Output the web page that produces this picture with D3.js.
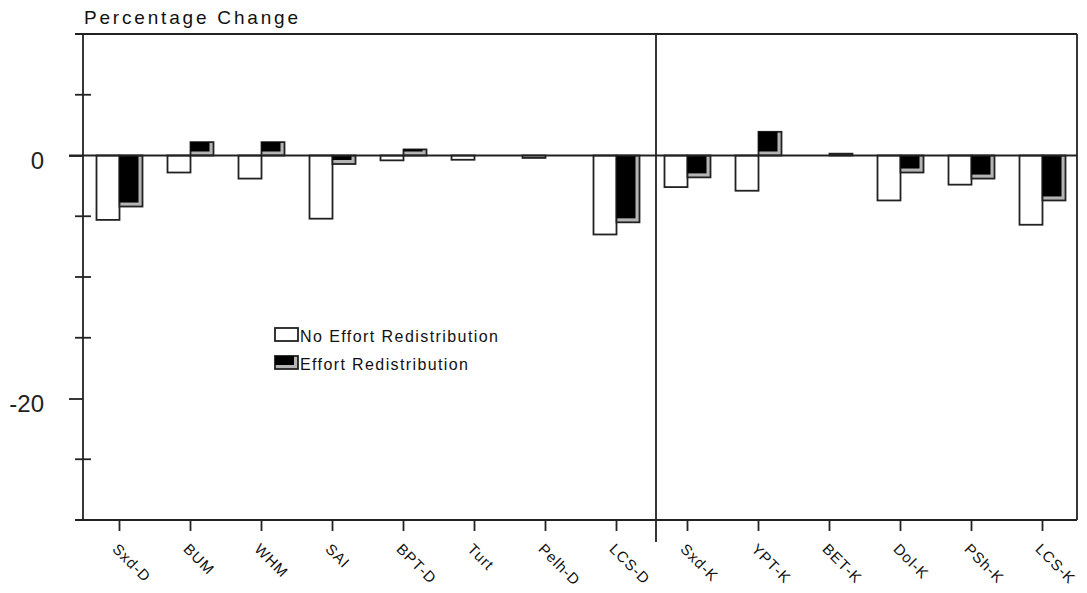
<!DOCTYPE html>
<html>
<head>
<meta charset="utf-8">
<script src="https://cdn.jsdelivr.net/npm/d3@7"></script>
<style>
  body { margin: 0; background: #fff; }
  svg { display: block; font-family: "Liberation Sans", Arial, sans-serif; }
</style>
</head>
<body>
<svg id="chart" width="1087" height="593"></svg>
<script>
// categories, D = first block, K = second block
const categories = ['Sxd-D', 'BUM', 'WHM', 'SAI', 'BPT-D', 'Turt', 'Pelh-D', 'LCS-D',
                    'Sxd-K', 'YPT-K', 'BET-K', 'Dol-K', 'PSh-K', 'LCS-K']
// percentage change
const noRedist = [-5.3, -1.4, -1.9, -5.2, -0.4, -0.35, -0.2, -6.5,
                  -2.6, -2.9, 0, -3.7, -2.4, -5.7]
const redist   = [-4.2, 1.1, 1.1, -0.7, 0.5, 0, 0, -5.5,
                  -1.8, 1.95, 0.15, -1.4, -1.9, -3.7]
const seriesNames = ['No Effort Redistribution', 'Effort Redistribution']
const yLabelTicks = [0, -20]
const yMinorTicks = [10, 5, -5, -10, -15, -25, -30]

const ink = '#222'
const sw = 1.8
const svg = d3.select('#chart')

const pLeft = 83, pRight = 1077, pTop = 34, pBottom = 520

let x = d3.scaleBand().domain(categories).range([pLeft + 1, pRight + 1])
let y = d3.scaleLinear().domain([-30, 10]).range([pBottom, pTop])
let sub = d3.scaleBand().domain([0, 1]).range([0, 46])

let rows = categories.map((c, i) => ({ cat: c, vals: [noRedist[i], redist[i]] }))

// bars
let groups = svg.selectAll('g.cat')
  .data(rows)
  .join('g')
  .attr('class', 'cat')
  .attr('transform', d => `translate(${x(d.cat) + (x.bandwidth() - 46) / 2},0)`)

// white bars
groups.filter(d => d.vals[0] !== 0).append('rect')
  .attr('x', sub(0))
  .attr('width', sub.bandwidth())
  .attr('y', d => y(Math.max(0, d.vals[0])))
  .attr('height', d => Math.abs(y(d.vals[0]) - y(0)))
  .attr('fill', '#fff')
  .attr('stroke', ink)
  .attr('stroke-width', sw)

// black bars with the grey 3d edge
let blk = groups.filter(d => d.vals[1] !== 0)
blk.append('rect')
  .attr('x', sub(1))
  .attr('width', sub.bandwidth())
  .attr('y', d => y(Math.max(0, d.vals[1])))
  .attr('height', d => Math.abs(y(d.vals[1]) - y(0)))
  .attr('fill', '#b4b4b4')
  .attr('stroke', ink)
  .attr('stroke-width', sw)
blk.append('rect')
  .attr('x', sub(1))
  .attr('width', sub.bandwidth() - 4)
  .attr('y', d => y(Math.max(0, d.vals[1])))
  .attr('height', d => Math.max(0, Math.abs(y(d.vals[1]) - y(0)) - 4))
  .attr('fill', '#000')

// frame
let lines = [
  [75, pTop, pRight, pTop],          // top
  [pRight, pTop, pRight, pBottom],   // right
  [75, pBottom, pRight, pBottom],    // bottom
  [pLeft, pTop, pLeft, pBottom],     // y axis
  [69, y(0), pRight, y(0)],          // zero line
]
let divX = x(categories[8]) + 4
lines.push([divX, pTop, divX, pBottom + 22])

svg.selectAll('line.frame')
  .data(lines)
  .join('line')
  .attr('class', 'frame')
  .attr('x1', d => d[0]).attr('y1', d => d[1])
  .attr('x2', d => d[2]).attr('y2', d => d[3])
  .attr('stroke', ink)
  .attr('stroke-width', sw)

// y minor ticks cross the axis
svg.selectAll('line.minor')
  .data(yMinorTicks)
  .join('line')
  .attr('class', 'minor')
  .attr('x1', pLeft - 8).attr('x2', pLeft + 8)
  .attr('y1', d => y(d)).attr('y2', d => y(d))
  .attr('stroke', ink)
  .attr('stroke-width', sw)

// y major ticks + labels
let yAxis = svg.append('g')
  .attr('transform', `translate(${pLeft},0)`)
  .call(d3.axisLeft(y).tickValues(yLabelTicks).tickSize(14).tickPadding(25).tickFormat(d3.format('d')))
yAxis.select('.domain').remove()
yAxis.selectAll('line').attr('stroke', ink).attr('stroke-width', sw)
yAxis.selectAll('text')
  .attr('fill', '#222')
  .attr('font-family', '"Liberation Sans Narrow", "Liberation Sans", Arial, sans-serif')
  .attr('font-size', 24)
  .attr('dy', '0.55em')
  .text(d => d === 0 ? '0' : '-' + Math.abs(d))

// x axis ticks + rotated labels
let xAxis = svg.append('g')
  .attr('transform', `translate(0,${pBottom})`)
  .call(d3.axisBottom(x).tickSize(11).tickSizeOuter(0))
xAxis.select('.domain').remove()
xAxis.selectAll('line').attr('stroke', ink).attr('stroke-width', sw)
xAxis.selectAll('text')
  .attr('fill', '#111')
  .attr('font-size', 15)
  .attr('letter-spacing', 1)
  .attr('text-anchor', 'start')
  .attr('y', 0).attr('dy', 0)
  .attr('transform', 'translate(-8,30) rotate(45)')

// title
svg.append('text')
  .attr('x', 84).attr('y', 24)
  .attr('font-size', 19)
  .attr('fill', '#111')
  .attr('textLength', 214)
  .attr('lengthAdjust', 'spacing')
  .text('Percentage Change')

// legend
let legend = svg.append('g').attr('transform', 'translate(275,328)')
let item = legend.selectAll('g')
  .data(seriesNames)
  .join('g')
  .attr('transform', (d, i) => `translate(0,${i * 28})`)
item.append('rect')
  .attr('width', 23).attr('height', 13)
  .attr('fill', (d, i) => i ? '#b4b4b4' : '#fff')
  .attr('stroke', ink).attr('stroke-width', sw)
item.filter((d, i) => i === 1).append('rect')
  .attr('width', 19).attr('height', 9)
  .attr('fill', '#000')
item.append('text')
  .attr('x', 25).attr('y', 14)
  .attr('font-size', 16)
  .attr('fill', '#111')
  .attr('textLength', (d, i) => i ? 168 : 198)
  .attr('lengthAdjust', 'spacing')
  .text(d => d)
</script>
</body>
</html>
